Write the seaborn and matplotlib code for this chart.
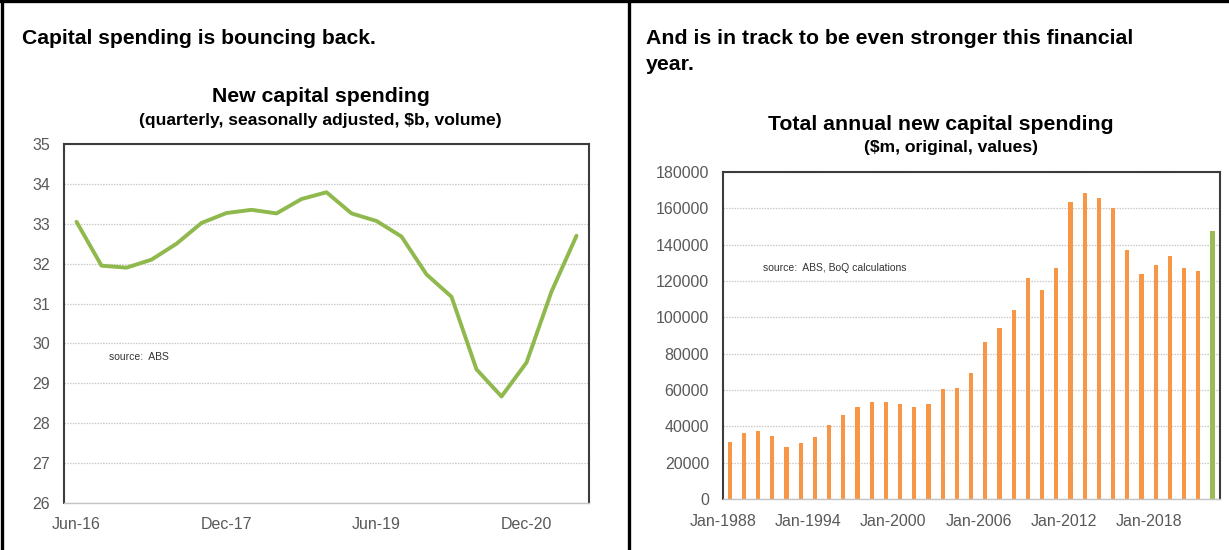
import matplotlib
matplotlib.use("Agg")
import matplotlib.pyplot as plt
from matplotlib.lines import Line2D
from matplotlib.ticker import FixedLocator, FuncFormatter
import seaborn as sns

# Quarterly new capital spending, seasonally adjusted volume ($b)
quarters = ["Jun-16", "Sep-16", "Dec-16", "Mar-17", "Jun-17", "Sep-17", "Dec-17",
            "Mar-18", "Jun-18", "Sep-18", "Dec-18", "Mar-19", "Jun-19", "Sep-19",
            "Dec-19", "Mar-20", "Jun-20", "Sep-20", "Dec-20", "Mar-21", "Jun-21"]
capex_volume = [33.05, 31.95, 31.90, 32.10, 32.50, 33.02, 33.27, 33.35, 33.26, 33.62,
                33.79, 33.26, 33.07, 32.68, 31.73, 31.17, 29.35, 28.67, 29.52, 31.30,
                32.70]
quarter_ticks = ["Jun-16", "Dec-17", "Jun-19", "Dec-20"]

# Total annual new capital spending by financial year ending June ($m)
fy_end = list(range(1988, 2023))
annual_capex = [31500, 36400, 37200, 34800, 28400, 30800, 34000, 40500, 46000, 50900,
                53300, 53300, 52400, 50900, 52400, 60600, 61300, 69400, 86200, 94300,
                103800, 121600, 115100, 127200, 163400, 168300, 165900, 160000, 137000,
                123900, 128900, 133600, 127200, 125700, 147500]
bar_status = ["actual"] * 34 + ["estimate"]
year_ticks = [1988, 1994, 2000, 2006, 2012, 2018]

GREEN_LINE = "#8FB84D"
ORANGE = "#F79646"
GREEN_BAR = "#9BBB59"
TICK_GREY = "#595959"
GRID_GREY = "#C9C9C9"
SPINE_DARK = "#3C3C3C"

sns.set_theme(style="white")
plt.rcParams["font.family"] = ["Liberation Sans", "DejaVu Sans"]
plt.rcParams["text.color"] = "black"

fig = plt.figure(figsize=(12.29, 5.5), dpi=100)
W, H = 1229.0, 550.0


def px_axes(x0, y0, x1, y1):
    return fig.add_axes([x0 / W, 1 - y1 / H, (x1 - x0) / W, (y1 - y0) / H])


def style_axes(ax):
    ax.set_axisbelow(True)
    ax.yaxis.grid(True, color=GRID_GREY, linestyle=(0, (1.2, 1.0)), linewidth=0.9)
    ax.xaxis.grid(False)
    for side in ("left", "top", "right"):
        ax.spines[side].set_color(SPINE_DARK)
        ax.spines[side].set_linewidth(1.5)
    ax.spines["bottom"].set_color("#C4C4C4")
    ax.spines["bottom"].set_linewidth(1.0)
    ax.tick_params(axis="y", length=0, pad=10, labelcolor=TICK_GREY)
    for lab in ax.get_yticklabels() + ax.get_xticklabels():
        lab.set_fontsize(11.5)
        lab.set_color(TICK_GREY)


# ---- left: quarterly line ----
ax1 = px_axes(64, 144, 589, 503)
qpos = list(range(len(quarters)))
sns.lineplot(x=qpos, y=capex_volume, color=GREEN_LINE, linewidth=2.8, ax=ax1,
             solid_joinstyle="round", solid_capstyle="round")
ax1.set_xlim(-0.5, len(quarters) - 0.5)
ax1.set_ylim(26, 35)
ax1.set_yticks(range(26, 36))
ax1.set_xticks([quarters.index(q) for q in quarter_ticks])
ax1.set_xticklabels(quarter_ticks)
ax1.tick_params(axis="x", length=0, pad=10)
ax1.set_xlabel("")
ax1.set_ylabel("")
style_axes(ax1)
ax1.text(1.3, 29.65, "source:  ABS", fontsize=7.5, color="#333333",
         va="center", ha="left")

# ---- right: annual bars ----
ax2 = px_axes(723, 172, 1220, 499)
bar_pos = [y + 0.47 for y in fy_end]  # plotted at the June financial year end
sns.barplot(x=bar_pos, y=annual_capex, hue=bar_status,
            palette={"actual": ORANGE, "estimate": GREEN_BAR},
            native_scale=True, width=0.3, dodge=False, legend=False,
            errorbar=None, saturation=1, linewidth=0, ax=ax2)
ax2.set_xlim(1988, 2023)
ax2.set_ylim(0, 180000)
ax2.yaxis.set_major_locator(FixedLocator(range(0, 180001, 20000)))
ax2.yaxis.set_major_formatter(FuncFormatter(lambda v, p: f"{int(v)}"))
ax2.set_xticks(year_ticks)
ax2.set_xticklabels([f"Jan-{y}" for y in year_ticks])
ax2.tick_params(axis="x", length=4, width=1, color="#BDBDBD", pad=7, direction="out")
ax2.set_xlabel("")
ax2.set_ylabel("")
style_axes(ax2)
ax2.text(1990.8, 127000, "source:  ABS, BoQ calculations", fontsize=7.5,
         color="#333333", va="center", ha="left")

# ---- headings and chart titles ----
fig.text(22 / W, 1 - 38 / H, "Capital spending is bouncing back.", fontsize=15.2,
         fontweight="bold", color="black", va="center", ha="left")
fig.text(646 / W, 1 - 38 / H, "And is in track to be even stronger this financial",
         fontsize=15.3, fontweight="bold", color="black", va="center", ha="left")
fig.text(646 / W, 1 - 64 / H, "year.", fontsize=15.3, fontweight="bold",
         color="black", va="center", ha="left")

fig.text(321 / W, 1 - 97 / H, "New capital spending", fontsize=15.3,
         fontweight="bold", color="black", va="center", ha="center")
fig.text(320 / W, 1 - 121 / H, "(quarterly, seasonally adjusted, $b, volume)",
         fontsize=12.6, fontweight="bold", color="black", va="center", ha="center")
fig.text(941 / W, 1 - 124 / H, "Total annual new capital spending", fontsize=15.3,
         fontweight="bold", color="black", va="center", ha="center")
fig.text(951 / W, 1 - 147 / H, "($m, original, values)", fontsize=12.6,
         fontweight="bold", color="black", va="center", ha="center")

# ---- panel frame ----
frame_kw = dict(color="black", linewidth=2.4, transform=fig.transFigure)
fig.add_artist(Line2D([0, 1], [1 - 1.2 / H, 1 - 1.2 / H], **frame_kw))
fig.add_artist(Line2D([1.5 / W, 1.5 / W], [0, 1], **frame_kw))
fig.add_artist(Line2D([629.5 / W, 629.5 / W], [0, 1], **frame_kw))

fig.savefig("out.png", dpi=100, facecolor="white")
